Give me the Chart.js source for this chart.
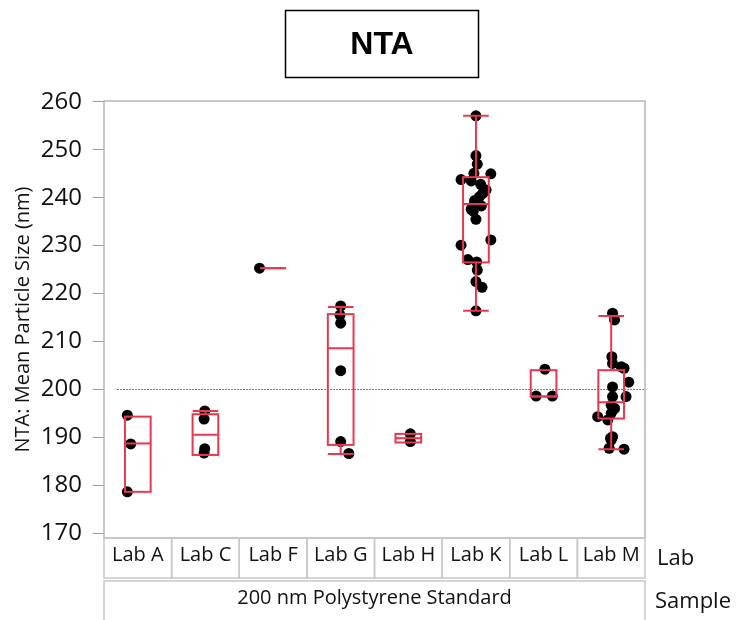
<!DOCTYPE html>
<html>
<head>
<meta charset="utf-8">
<script src="https://cdn.jsdelivr.net/npm/chart.js@4"></script>
<style>
  html, body { margin: 0; padding: 0; background: #fff; }
  #wrap { width: 736px; height: 620px; position: relative; }
</style>
</head>
<body>
<div id="wrap"><canvas id="chart"></canvas></div>
<script>
const chartTitle = "NTA";
const yTitle = "NTA: Mean Particle Size (nm)";
const labs = ["Lab A", "Lab C", "Lab F", "Lab G", "Lab H", "Lab K", "Lab L", "Lab M"];
const sampleName = "200 nm Polystyrene Standard";
const yTicks = [170, 180, 190, 200, 210, 220, 230, 240, 250, 260];
const targetSize = 200;

// measured values per lab, with the horizontal jitter (fraction of a category)
const labAValues = [194.6, 188.6, 178.6];
const labAJitter = [-0.155, -0.105, -0.155];
const labCValues = [195.5, 193.8, 187.6, 186.7];
const labCJitter = [-0.01, -0.02, -0.01, -0.02];
const labFValues = [225.3];
const labFJitter = [-0.2];
const labGValues = [217.4, 215.5, 213.8, 203.9, 189.1, 186.6];
const labGJitter = [0, -0.01, 0, 0, 0, 0.12];
const labHValues = [190.7, 189.1];
const labHJitter = [0.03, 0.03];
const labKValues = [257.1, 248.8, 247.0, 245.1, 245.0, 243.8, 243.5, 242.8, 241.6, 240.9, 240.2, 239.4, 238.8,
  238.3, 237.6, 237.2, 235.5, 231.2, 230.1, 227.1, 226.6, 224.9, 222.5, 221.3, 216.4];
const labKJitter = [0, 0, 0.02, -0.03, 0.22, -0.22, -0.07, 0.07, 0.15, 0.10, 0.05, -0.02, -0.02,
  0.08, -0.07, -0.04, 0, 0.22, -0.22, -0.12, 0.01, 0.02, 0, 0.09, 0];
const labLValues = [204.2, 198.6, 198.6];
const labLJitter = [0.02, -0.11, 0.13];
const labMValues = [215.9, 214.5, 206.8, 205.4, 204.7, 204.4, 201.5, 200.5, 198.5, 198.5, 196.7, 196.0, 195.0,
  194.3, 193.6, 190.1, 189.8, 189.4, 187.7, 187.5];
const labMJitter = [0.02, 0.05, 0.01, 0.02, 0.15, 0.19, 0.26, 0.02, 0.22, 0.02, 0, 0.05, 0,
  -0.2, -0.05, 0.02, -0.01, 0, -0.03, 0.19];

// box plot summaries as drawn (whisker low, Q1, median, Q3, whisker high)
const boxLow    = [178.6, 186.3, 225.3, 186.5, 188.9, 216.4, 198.5, 187.5];
const boxQ1     = [178.6, 186.3, 225.3, 188.4, 188.9, 226.5, 198.5, 193.9];
const boxMedian = [188.7, 190.5, 225.3, 208.6, 189.8, 238.7, 198.5, 197.3];
const boxQ3     = [194.3, 194.8, 225.3, 215.7, 190.7, 244.3, 204.0, 204.0];
const boxHigh   = [194.3, 195.5, 225.3, 217.2, 190.7, 257.1, 204.0, 215.3];

const allValues = [labAValues, labCValues, labFValues, labGValues, labHValues, labKValues, labLValues, labMValues];
const allJitter = [labAJitter, labCJitter, labFJitter, labGJitter, labHJitter, labKJitter, labLJitter, labMJitter];

const points = [];
allValues.forEach((vals, i) => {
  vals.forEach((v, j) => points.push({ x: i + allJitter[i][j], y: v }));
});

const FONT = "'Open Sans', 'Noto Sans', sans-serif";
const RED = "#e8384f";
const GREY = "#b4b4b4";
const TEXT = "#111";

const refLinePlugin = {
  id: "refLine",
  beforeDatasetsDraw(chart) {
    const { ctx, scales: { x, y } } = chart;
    const py = Math.round(y.getPixelForValue(targetSize)) + 0.5;
    ctx.save();
    ctx.strokeStyle = "#000";
    ctx.lineWidth = 1;
    ctx.setLineDash([1, 2]);
    ctx.beginPath();
    ctx.moveTo(x.getPixelForValue(-0.3), py);
    ctx.lineTo(x.getPixelForValue(7.5), py);
    ctx.stroke();
    ctx.restore();
  }
};

const boxPlugin = {
  id: "boxes",
  afterDatasetsDraw(chart) {
    const { ctx, scales: { x, y } } = chart;
    ctx.save();
    ctx.strokeStyle = RED;
    ctx.lineWidth = 2;
    labs.forEach((lab, i) => {
      const l = x.getPixelForValue(i - 0.19);
      const r = x.getPixelForValue(i + 0.19);
      const c = (l + r) / 2;
      const q1 = y.getPixelForValue(boxQ1[i]);
      const q3 = y.getPixelForValue(boxQ3[i]);
      const md = y.getPixelForValue(boxMedian[i]);
      const lo = y.getPixelForValue(boxLow[i]);
      const hi = y.getPixelForValue(boxHigh[i]);
      ctx.strokeRect(l, q3, r - l, q1 - q3);
      ctx.beginPath();
      ctx.moveTo(l, md); ctx.lineTo(r, md);
      if (boxHigh[i] > boxQ3[i]) {
        ctx.moveTo(c, q3); ctx.lineTo(c, hi);
        ctx.moveTo(l, hi); ctx.lineTo(r, hi);
      }
      if (boxLow[i] < boxQ1[i]) {
        ctx.moveTo(c, q1); ctx.lineTo(c, lo);
        ctx.moveTo(l, lo); ctx.lineTo(r, lo);
      }
      ctx.stroke();
    });
    ctx.restore();
  }
};

const framePlugin = {
  id: "frame",
  afterDraw(chart) {
    const { ctx, chartArea: a, scales: { x } } = chart;
    ctx.save();
    // plot frame
    ctx.strokeStyle = GREY;
    ctx.lineWidth = 1.5;
    ctx.strokeRect(a.left, a.top, a.right - a.left, a.bottom - a.top);

    // title box
    ctx.strokeStyle = "#000";
    ctx.lineWidth = 1.5;
    ctx.strokeRect(285.5, 10.5, 193, 67);
    ctx.fillStyle = "#000";
    ctx.font = "bold 32px 'Liberation Sans', Arial, sans-serif";
    ctx.textAlign = "center";
    ctx.textBaseline = "middle";
    ctx.fillText(chartTitle, 382, 45);

    // category cells
    const row1Top = a.bottom, row1Bot = 578, row2Top = 581, row2Bot = 622;
    ctx.strokeStyle = "#c8c8c8";
    ctx.lineWidth = 1.5;
    ctx.fillStyle = TEXT;
    ctx.font = "20px " + FONT;
    labs.forEach((lab, i) => {
      const l = x.getPixelForValue(i - 0.5);
      const r = x.getPixelForValue(i + 0.5);
      ctx.strokeRect(l, row1Top, r - l, row1Bot - row1Top);
      ctx.fillText(lab, (l + r) / 2, (row1Top + row1Bot) / 2 - 3);
    });
    ctx.strokeRect(a.left, row2Top, a.right - a.left, row2Bot - row2Top);
    ctx.fillText(sampleName, (a.left + a.right) / 2, 598);

    ctx.textAlign = "left";
    ctx.font = "22px " + FONT;
    ctx.fillText("Lab", 657, 559);
    ctx.fillText("Sample", 655, 602);
    ctx.restore();
  }
};

new Chart(document.getElementById("chart"), {
  type: "scatter",
  data: {
    datasets: [{
      data: points,
      pointRadius: 5.5,
      pointHoverRadius: 5.5,
      pointBackgroundColor: "#000",
      pointBorderColor: "#000",
      pointBorderWidth: 0
    }]
  },
  options: {
    responsive: true,
    maintainAspectRatio: false,
    animation: false,
    layout: { padding: { top: 101, right: 91, bottom: 82, left: 0 } },
    plugins: {
      legend: { display: false },
      tooltip: { enabled: false }
    },
    scales: {
      x: {
        type: "linear",
        min: -0.5,
        max: 7.5,
        display: false
      },
      y: {
        min: 168.96,
        max: 260.2,
        afterBuildTicks: (axis) => { axis.ticks = yTicks.map(v => ({ value: v })); },
        afterFit: (axis) => { axis.width = 104; },
        border: { display: false },
        grid: { drawOnChartArea: false, tickLength: 11, color: "#999", lineWidth: 1 },
        ticks: {
          color: TEXT,
          padding: 11,
          font: { family: FONT, size: 24 }
        },
        title: {
          display: true,
          text: yTitle,
          color: TEXT,
          padding: { top: 11, bottom: 0 },
          font: { family: FONT, size: 20 }
        }
      }
    }
  },
  plugins: [refLinePlugin, boxPlugin, framePlugin]
});
</script>
</body>
</html>
